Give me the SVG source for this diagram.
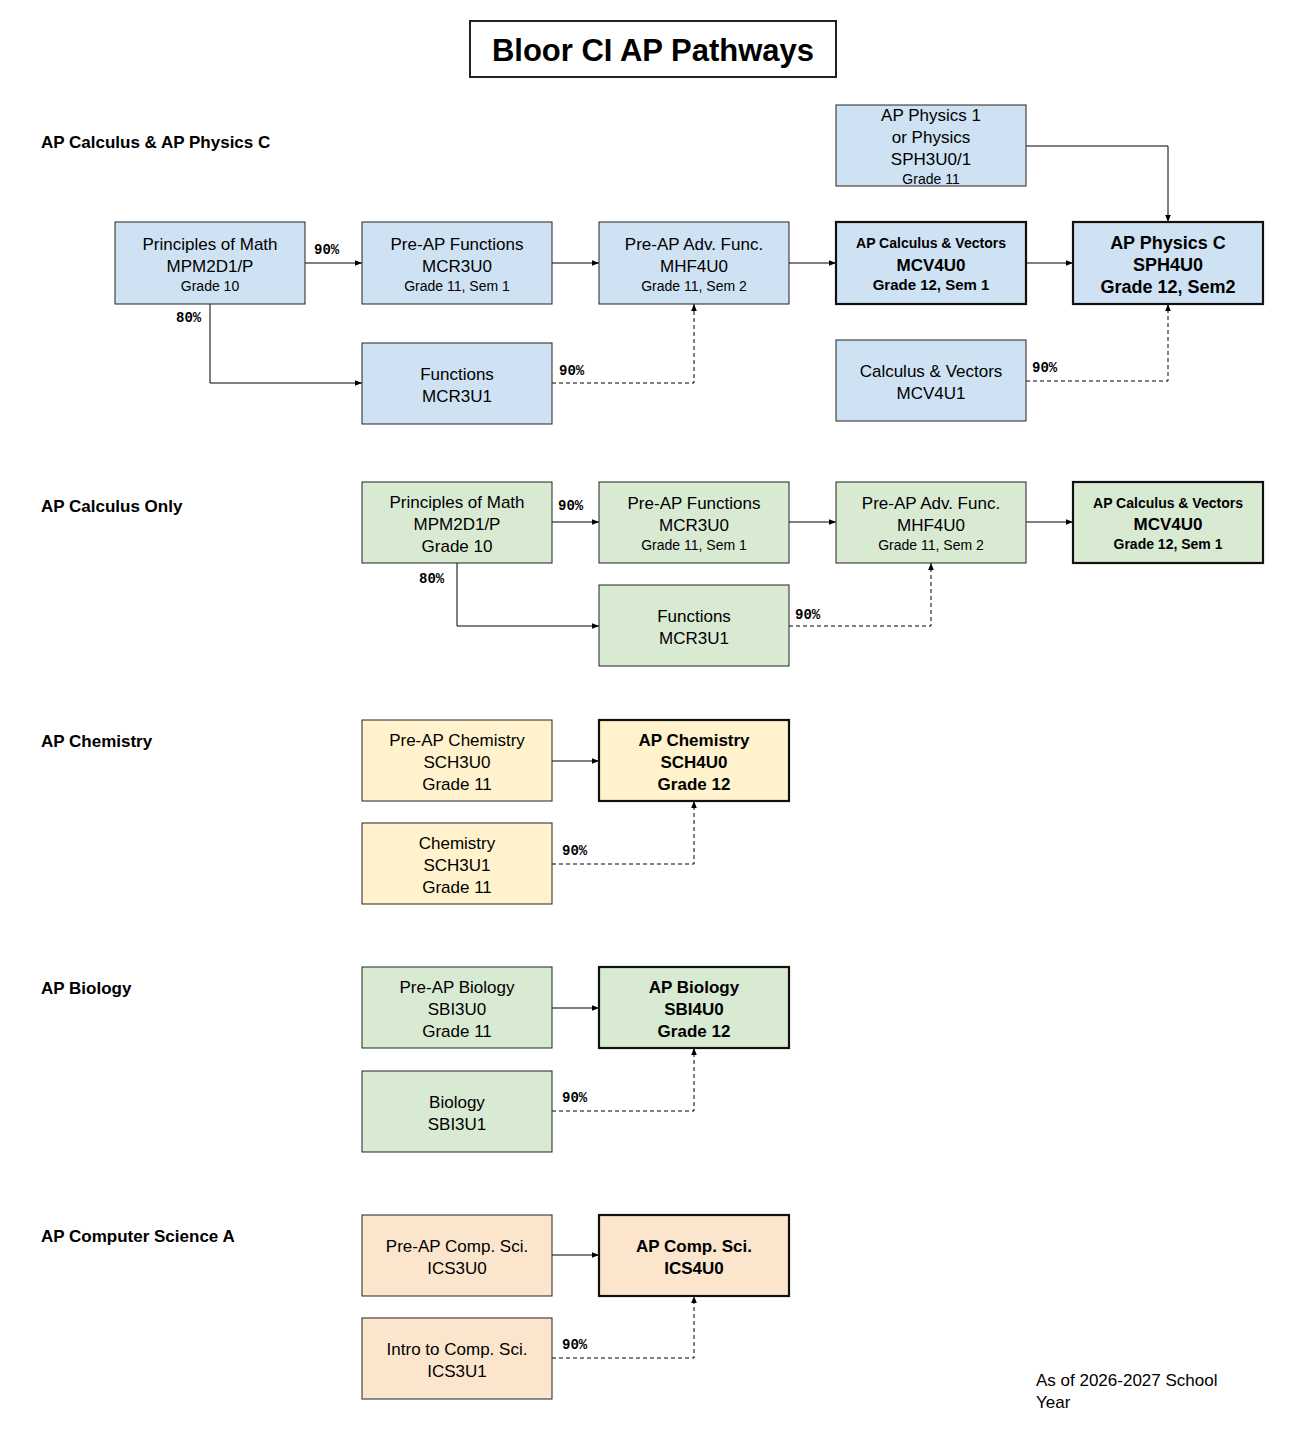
<svg xmlns="http://www.w3.org/2000/svg" width="1308" height="1456" viewBox="0 0 1308 1456">
<style>
text{font-family:"Liberation Sans",Arial,sans-serif;fill:#000;text-anchor:middle}
.n{stroke:#222;stroke-width:1}
.b{stroke:#111;stroke-width:2.2}
.bl{fill:#cfe2f3}.gr{fill:#d9ead3}.ye{fill:#fff2cc}.or{fill:#fce5cd}
.t{font-size:17px}.s{font-size:14px}.bd{font-weight:bold}
.h{font-size:17px;font-weight:bold;text-anchor:start}
.p{font-family:"Liberation Mono","DejaVu Sans Mono",monospace;font-size:14px;font-weight:bold;text-anchor:start}
.c{fill:none;stroke:#000;stroke-width:1}
.d{stroke-dasharray:4,3}
</style>
<defs><marker id="a" viewBox="0 0 10 10" refX="10" refY="5" markerWidth="7" markerHeight="7" orient="auto"><path d="M0,1L10,5L0,9z" fill="#000"/></marker></defs>
<g id="title"><rect x="470" y="21" width="366" height="56" fill="#fff" stroke="#222" stroke-width="2"/><text x="653" y="61" font-size="31" font-weight="bold">Bloor CI AP Pathways</text></g>
<g id="headers">
<text class="h" x="41" y="148">AP Calculus &amp; AP Physics C</text>
<text class="h" x="41" y="512">AP Calculus Only</text>
<text class="h" x="41" y="747">AP Chemistry</text>
<text class="h" x="41" y="994">AP Biology</text>
<text class="h" x="41" y="1242">AP Computer Science A</text>
</g>
<g id="connectors">
<path class="c" marker-end="url(#a)" d="M305,263H362"/>
<path class="c" marker-end="url(#a)" d="M552,263H599"/>
<path class="c" marker-end="url(#a)" d="M789,263H836"/>
<path class="c" marker-end="url(#a)" d="M1026,263H1073"/>
<path class="c" marker-end="url(#a)" d="M1026,146H1168V222"/>
<path class="c" marker-end="url(#a)" d="M210,304V383H362"/>
<path class="c d" marker-end="url(#a)" d="M552,383H694V304"/>
<path class="c d" marker-end="url(#a)" d="M1026,381H1168V304"/>
<path class="c" marker-end="url(#a)" d="M552,522H599"/>
<path class="c" marker-end="url(#a)" d="M789,522H836"/>
<path class="c" marker-end="url(#a)" d="M1026,522H1073"/>
<path class="c" marker-end="url(#a)" d="M457,563V626H599"/>
<path class="c d" marker-end="url(#a)" d="M789,626H931V563"/>
<path class="c" marker-end="url(#a)" d="M552,761H599"/>
<path class="c d" marker-end="url(#a)" d="M552,864H694V801"/>
<path class="c" marker-end="url(#a)" d="M552,1008H599"/>
<path class="c d" marker-end="url(#a)" d="M552,1111H694V1048"/>
<path class="c" marker-end="url(#a)" d="M552,1255H599"/>
<path class="c d" marker-end="url(#a)" d="M552,1358H694V1296"/>
<text class="p" x="314" y="254">90%</text>
<text class="p" x="176" y="322">80%</text>
<text class="p" x="559" y="375">90%</text>
<text class="p" x="1032" y="372">90%</text>
<text class="p" x="558" y="510">90%</text>
<text class="p" x="419" y="583">80%</text>
<text class="p" x="795" y="619">90%</text>
<text class="p" x="562" y="855">90%</text>
<text class="p" x="562" y="1102">90%</text>
<text class="p" x="562" y="1349">90%</text>
</g>
<g id="phys1"><rect class="n bl" x="836" y="105" width="190" height="81"/><text class="t" x="931" y="121">AP Physics 1</text><text class="t" x="931" y="143">or Physics</text><text class="t" x="931" y="165">SPH3U0/1</text><text class="s" x="931" y="184">Grade 11</text></g>
<g id="pom1"><rect class="n bl" x="115" y="222" width="190" height="82"/><text class="t" x="210" y="250">Principles of Math</text><text class="t" x="210" y="272">MPM2D1/P</text><text class="s" x="210" y="291">Grade 10</text></g>
<g id="preap1"><rect class="n bl" x="362" y="222" width="190" height="82"/><text class="t" x="457" y="250">Pre-AP Functions</text><text class="t" x="457" y="272">MCR3U0</text><text class="s" x="457" y="291">Grade 11, Sem 1</text></g>
<g id="adv1"><rect class="n bl" x="599" y="222" width="190" height="82"/><text class="t" x="694" y="250">Pre-AP Adv. Func.</text><text class="t" x="694" y="272">MHF4U0</text><text class="s" x="694" y="291">Grade 11, Sem 2</text></g>
<g id="apcalc1"><rect class="b bl" x="836" y="222" width="190" height="82"/><text class="s bd" x="931" y="248">AP Calculus &amp; Vectors</text><text class="t bd" x="931" y="271">MCV4U0</text><text class="bd" font-size="15" x="931" y="290">Grade 12, Sem 1</text></g>
<g id="physc"><rect class="b bl" x="1073" y="222" width="190" height="82"/><text class="bd" font-size="18" x="1168" y="249">AP Physics C</text><text class="bd" font-size="18" x="1168" y="271">SPH4U0</text><text class="bd" font-size="18" x="1168" y="293">Grade 12, Sem2</text></g>
<g id="func1"><rect class="n bl" x="362" y="343" width="190" height="81"/><text class="t" x="457" y="380">Functions</text><text class="t" x="457" y="402">MCR3U1</text></g>
<g id="cv1"><rect class="n bl" x="836" y="340" width="190" height="81"/><text class="t" x="931" y="377">Calculus &amp; Vectors</text><text class="t" x="931" y="399">MCV4U1</text></g>
<g id="pom2"><rect class="n gr" x="362" y="482" width="190" height="81"/><text class="t" x="457" y="508">Principles of Math</text><text class="t" x="457" y="530">MPM2D1/P</text><text class="t" x="457" y="552">Grade 10</text></g>
<g id="preap2"><rect class="n gr" x="599" y="482" width="190" height="81"/><text class="t" x="694" y="509">Pre-AP Functions</text><text class="t" x="694" y="531">MCR3U0</text><text class="s" x="694" y="550">Grade 11, Sem 1</text></g>
<g id="adv2"><rect class="n gr" x="836" y="482" width="190" height="81"/><text class="t" x="931" y="509">Pre-AP Adv. Func.</text><text class="t" x="931" y="531">MHF4U0</text><text class="s" x="931" y="550">Grade 11, Sem 2</text></g>
<g id="apcalc2"><rect class="b gr" x="1073" y="482" width="190" height="81"/><text class="s bd" x="1168" y="508">AP Calculus &amp; Vectors</text><text class="t bd" x="1168" y="530">MCV4U0</text><text class="s bd" x="1168" y="549">Grade 12, Sem 1</text></g>
<g id="func2"><rect class="n gr" x="599" y="585" width="190" height="81"/><text class="t" x="694" y="622">Functions</text><text class="t" x="694" y="644">MCR3U1</text></g>
<g id="prechem"><rect class="n ye" x="362" y="720" width="190" height="81"/><text class="t" x="457" y="746">Pre-AP Chemistry</text><text class="t" x="457" y="768">SCH3U0</text><text class="t" x="457" y="790">Grade 11</text></g>
<g id="apchem"><rect class="b ye" x="599" y="720" width="190" height="81"/><text class="t bd" x="694" y="746">AP Chemistry</text><text class="t bd" x="694" y="768">SCH4U0</text><text class="t bd" x="694" y="790">Grade 12</text></g>
<g id="chem"><rect class="n ye" x="362" y="823" width="190" height="81"/><text class="t" x="457" y="849">Chemistry</text><text class="t" x="457" y="871">SCH3U1</text><text class="t" x="457" y="893">Grade 11</text></g>
<g id="prebio"><rect class="n gr" x="362" y="967" width="190" height="81"/><text class="t" x="457" y="993">Pre-AP Biology</text><text class="t" x="457" y="1015">SBI3U0</text><text class="t" x="457" y="1037">Grade 11</text></g>
<g id="apbio"><rect class="b gr" x="599" y="967" width="190" height="81"/><text class="t bd" x="694" y="993">AP Biology</text><text class="t bd" x="694" y="1015">SBI4U0</text><text class="t bd" x="694" y="1037">Grade 12</text></g>
<g id="bio"><rect class="n gr" x="362" y="1071" width="190" height="81"/><text class="t" x="457" y="1108">Biology</text><text class="t" x="457" y="1130">SBI3U1</text></g>
<g id="precs"><rect class="n or" x="362" y="1215" width="190" height="81"/><text class="t" x="457" y="1252">Pre-AP Comp. Sci.</text><text class="t" x="457" y="1274">ICS3U0</text></g>
<g id="apcs"><rect class="b or" x="599" y="1215" width="190" height="81"/><text class="t bd" x="694" y="1252">AP Comp. Sci.</text><text class="t bd" x="694" y="1274">ICS4U0</text></g>
<g id="introcs"><rect class="n or" x="362" y="1318" width="190" height="81"/><text class="t" x="457" y="1355">Intro to Comp. Sci.</text><text class="t" x="457" y="1377">ICS3U1</text></g>
<g id="note"><text class="t" style="text-anchor:start" x="1036" y="1386">As of 2026-2027 School</text><text class="t" style="text-anchor:start" x="1036" y="1408">Year</text></g>
</svg>
